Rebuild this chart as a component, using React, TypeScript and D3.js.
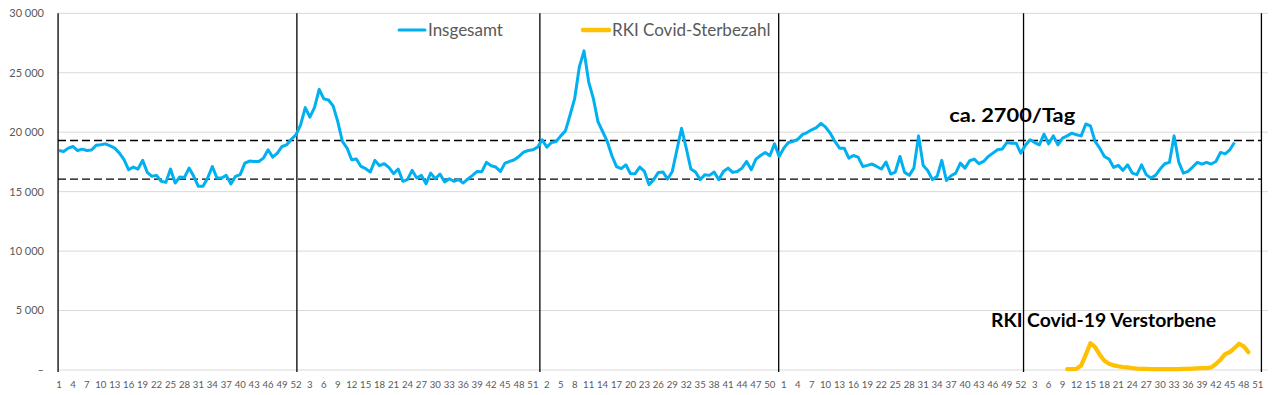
import React, { useEffect } from "react";
import * as d3 from "d3";

// weekly deaths, all causes
const total2016 = [
  18460, 18380, 18660, 18800, 18460, 18580, 18460, 18500, 18900, 18940,
  19020, 18850, 18660, 18240, 17700, 16840, 17070, 16900, 17630, 16620,
  16290, 16370, 15870, 15780, 16900, 15730, 16230, 16200, 16980, 16290,
  15450, 15450, 16150, 17120, 16150, 16150, 16370, 15650, 16290, 16430,
  17400, 17570, 17540, 17540, 17820, 18520, 17900, 18240, 18800, 18940,
  19410, 19780,
];
const total2017 = [
  20610, 22070, 21260, 22090, 23600, 22800, 22710, 22210, 20890, 19220,
  18660, 17680, 17740, 17120, 16930, 16650, 17630, 17180, 17350, 17040,
  16510, 16900, 15870, 16010, 16790, 16150, 16370, 15670, 16560, 16090,
  16480, 15810, 16090, 15870, 16010, 15730, 16060, 16370, 16700, 16680,
  17460, 17180, 17070, 16700, 17400, 17540, 17680, 17960, 18320, 18460,
  18520, 18740,
];
const total2018 = [
  19360, 18740, 19130, 19220, 19690, 20110, 21450, 22850, 25500, 26840,
  24240, 22850, 20890, 20060, 19220, 18020, 17100, 16930, 17260, 16510,
  16510, 17070, 16700, 15590, 16010, 16620, 16650, 16060, 16700, 18520,
  20330, 18660, 16900, 16650, 16010, 16430, 16370, 16650, 16010, 16700,
  16980, 16620, 16700, 16980, 17540, 16840, 17740, 18040, 18300, 18020,
  19020, 17960,
];
const total2019 = [
  18660, 19130, 19220, 19400, 19800, 19970, 20200, 20390, 20750, 20420,
  19920, 19220, 18660, 18660, 17820, 18040, 17900, 17120, 17210, 17320,
  17120, 16900, 17490, 16480, 16650, 17960, 16620, 16370, 16980, 19690,
  17210, 16760, 16010, 16290, 17630, 15950, 16340, 16560, 17400, 16980,
  17600, 17740, 17350, 17540, 17960, 18240, 18520, 18580, 19130, 19080,
  19080, 18240,
];
const total2020 = [
  18900, 19360, 19130, 18940, 19830, 19020, 19690, 18940, 19500, 19690,
  19920, 19780, 19690, 20690, 20530, 19220, 18660, 17960, 17740, 17040,
  17210, 16790, 17260, 16560, 16430, 17260, 16430, 16150, 16370, 16900,
  17350, 17460, 19690, 17490, 16560, 16700, 17070, 17460, 17320, 17460,
  17320, 17540, 18300, 18180, 18520, 19130,
];

// RKI covid deaths 2020, from week 10
const covidStartWeek = 10;
const covid2020 = [
  80, 80, 100, 370, 1290, 2250, 1930, 1290, 780, 530,
  390, 310, 250, 220, 150, 120, 100, 90, 80, 80,
  80, 80, 80, 80, 80, 90, 100, 120, 140, 150,
  160, 220, 500, 870, 1340, 1510, 1850, 2210, 1990, 1500,
];

const weeksPerYear = [52, 52, 52, 52, 53];
const yTicks = [0, 5000, 10000, 15000, 20000, 25000, 30000];
const bandValues = [19300, 16060]; // dashed guide lines
const yearSeparators = [-0.2, 51.2, 103.5, 154.9, 207.6, 258.8];

const W = 1281;
const H = 395;
const BLUE = "#00B0F0";
const ORANGE = "#FFC000";
const GREY = "#595959";
const FONT = "Lato, 'Open Sans', sans-serif";

const App = () => {
  useEffect(() => {
    document.body.style.margin = "0";
  }, []);

  const weekLabels: number[] = [];
  weeksPerYear.forEach((n) => {
    for (let w = 1; w <= n; w++) weekLabels.push(w);
  });

  const totals = [...total2016, ...total2017, ...total2018, ...total2019, ...total2020].map(
    (v, i) => ({ i, v })
  );
  const start2020 = weeksPerYear.slice(0, 4).reduce((a, b) => a + b, 0);
  const covid = covid2020.map((v, k) => ({ i: start2020 + covidStartWeek - 1 + k, v }));

  const x = d3.scaleLinear().domain([0, weekLabels.length - 1]).range([59, 1267]);
  const y = d3.scaleLinear().domain([0, 30000]).range([370, 13.3]);

  const line = d3
    .line<{ i: number; v: number }>()
    .x((d) => x(d.i))
    .y((d) => y(d.v));

  const fmt = (v: number) => (v === 0 ? "–" : d3.format(",")(v).replace(/,/g, " "));

  return (
    <svg width={W} height={H} style={{ position: "absolute", left: 0, top: 0, background: "#fff" }}>
      <rect x={0} y={0} width={W} height={H} fill="#fff" />
      {/* gridlines */}
      {yTicks.map((t) => (
        <line key={t} x1={58} x2={1268} y1={y(t)} y2={y(t)} stroke="#d9d9d9" strokeWidth={1} />
      ))}
      {yTicks.map((t) => (
        <text
          key={"l" + t}
          x={44}
          y={y(t)}
          dy="0.35em"
          textAnchor="end"
          fontFamily={FONT}
          fontSize={11}
          fill={GREY}
        >
          {fmt(t)}
        </text>
      ))}
      {/* week labels */}
      {weekLabels.map((w, i) =>
        i % 3 === 0 ? (
          <text
            key={"w" + i}
            x={x(i)}
            y={388}
            textAnchor="middle"
            fontFamily={FONT}
            fontSize={9.6}
            fill={GREY}
          >
            {w}
          </text>
        ) : null
      )}
      {/* dashed guides */}
      {bandValues.map((b) => (
        <line
          key={"b" + b}
          x1={58}
          x2={x(yearSeparators[yearSeparators.length - 1])}
          y1={y(b)}
          y2={y(b)}
          stroke="#000"
          strokeWidth={1.3}
          strokeDasharray="8,4"
        />
      ))}
      {/* year separators */}
      {yearSeparators.map((s) => (
        <line key={"s" + s} x1={x(s)} x2={x(s)} y1={y(30000)} y2={372} stroke="#000" strokeWidth={1.3} />
      ))}
      <path d={line(totals) || ""} fill="none" stroke={BLUE} strokeWidth={3} strokeLinejoin="round" />
      <path
        d={line(covid) || ""}
        fill="none"
        stroke={ORANGE}
        strokeWidth={4.2}
        strokeLinejoin="round"
        strokeLinecap="round"
      />
      {/* legend */}
      <line x1={399} x2={425} y1={30} y2={30} stroke={BLUE} strokeWidth={3} strokeLinecap="round" />
      <text x={428} y={36} fontFamily={FONT} fontSize={17} fill={GREY}>
        Insgesamt
      </text>
      <line x1={583} x2={609} y1={30} y2={30} stroke={ORANGE} strokeWidth={4.5} strokeLinecap="round" />
      <text x={612} y={36} fontFamily={FONT} fontSize={17} fill={GREY}>
        RKI Covid-Sterbezahl
      </text>
      {/* annotations */}
      <text
        x={x(191.6)}
        y={y(20850)}
        fontFamily={FONT}
        fontWeight="bold"
        fontSize={19}
        textLength={126}
        lengthAdjust="spacingAndGlyphs"
        fill="#000"
      >
        ca. 2700/Tag
      </text>
      <text
        x={x(200.6)}
        y={y(3650)}
        fontFamily={FONT}
        fontWeight="bold"
        fontSize={19}
        textLength={225}
        lengthAdjust="spacingAndGlyphs"
        fill="#000"
      >
        RKI Covid-19 Verstorbene
      </text>
    </svg>
  );
};

export default App;
